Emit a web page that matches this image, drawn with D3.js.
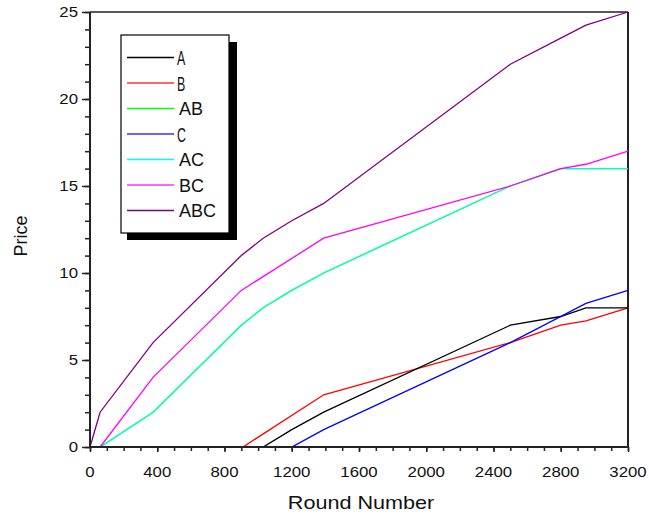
<!DOCTYPE html>
<html>
<head>
<meta charset="utf-8">
<script src="https://cdn.jsdelivr.net/npm/d3@7"></script>
<style>
  body { margin: 0; background: #fff; }
  svg { display: block; font-family: "Liberation Sans", Arial, sans-serif; }
</style>
</head>
<body>
<svg id="chart" width="649" height="514"></svg>
<script>
// ---- data ----
const seriesNames = ["A", "B", "AB", "C", "AC", "BC", "ABC"];
const seriesColors = ["#000000", "#ff0000", "#00ff00", "#0000ff", "#00ffff", "#ff00ff", "#800080"];

const roundsA = [0, 1030, 1200, 1390, 2500, 2800, 2950, 3200];
const priceA  = [0, 0, 1, 2, 7, 7.5, 8, 8];

const roundsB = [0, 910, 1390, 2500, 2800, 2950, 3200];
const priceB  = [0, 0, 3, 6, 7, 7.25, 8];

const roundsAB = [0, 60, 375, 900, 1030, 1200, 1390, 2500, 2800, 3200];
const priceAB  = [0, 0, 2, 7, 8, 9, 10, 15, 16, 16];

const roundsC = [0, 1200, 1390, 2500, 2950, 3200];
const priceC  = [0, 0, 1, 6, 8.25, 9];

const roundsAC = [0, 60, 375, 900, 1030, 1200, 1390, 2500, 2800, 3200];
const priceAC  = [0, 0, 2, 7, 8, 9, 10, 15, 16, 16];

const roundsBC = [0, 60, 375, 900, 1390, 2500, 2800, 2950, 3200];
const priceBC  = [0, 0, 4, 9, 12, 15, 16, 16.25, 17];

const roundsABC = [0, 60, 375, 900, 1030, 1200, 1390, 2500, 2800, 2950, 3200];
const priceABC  = [0, 2, 6, 11, 12, 13, 14, 22, 23.5, 24.25, 25];

const xMajorTicks = [0, 400, 800, 1200, 1600, 2000, 2400, 2800, 3200];
const yMajorTicks = [0, 5, 10, 15, 20, 25];

const xTitle = "Round Number";
const yTitle = "Price";

// ---- build ----
const seriesX = [roundsA, roundsB, roundsAB, roundsC, roundsAC, roundsBC, roundsABC];
const seriesY = [priceA, priceB, priceAB, priceC, priceAC, priceBC, priceABC];

const svg = d3.select("#chart");
const pLeft = 90, pRight = 628, pTop = 12, pBottom = 447;

const x = d3.scaleLinear().domain([0, 3200]).range([pLeft, pRight]);
const y = d3.scaleLinear().domain([0, 25]).range([pBottom, pTop]);

// frame (top and right)
svg.append("line").attr("x1", pLeft).attr("x2", pRight).attr("y1", pTop).attr("y2", pTop)
  .attr("stroke", "#222").attr("stroke-width", 1.5);
svg.append("line").attr("x1", pRight).attr("x2", pRight).attr("y1", pTop).attr("y2", pBottom)
  .attr("stroke", "#222").attr("stroke-width", 2);

// lines
const line = d3.line().x(d => x(d[0])).y(d => y(d[1]));
const drawOrder = [2, 4, 5, 6, 1, 0, 3];
drawOrder.forEach(i => {
  const pts = seriesX[i].map((v, k) => [v, seriesY[i][k]]);
  svg.append("path")
    .attr("d", line(pts))
    .attr("fill", "none")
    .attr("stroke", seriesColors[i])
    .attr("stroke-opacity", i === 4 ? 0.8 : 1)
    .attr("stroke-width", 1.3);
});

// axes
const xMinor = d3.axisBottom(x).tickValues(d3.range(0, 3201, 100)).tickSize(4).tickFormat("");
const xMajor = d3.axisBottom(x).tickValues(xMajorTicks).tickSize(5).tickFormat("");
const yMinor = d3.axisLeft(y).tickValues(d3.range(0, 26, 1)).tickSize(5).tickFormat("");
const yMajor = d3.axisLeft(y).tickValues(yMajorTicks).tickSize(8).tickFormat("");

[xMinor, xMajor].forEach(ax => {
  const g = svg.append("g").attr("transform", `translate(0,${pBottom})`).call(ax);
  g.select(".domain").remove();
  g.selectAll("line").attr("stroke", "#222").attr("stroke-width", 1.5);
});
[yMinor, yMajor].forEach(ax => {
  const g = svg.append("g").attr("transform", `translate(${pLeft},0)`).call(ax);
  g.select(".domain").remove();
  g.selectAll("line").attr("stroke", "#222").attr("stroke-width", 1.5);
});
svg.append("line").attr("x1", pLeft).attr("x2", pLeft).attr("y1", pTop).attr("y2", pBottom + 1)
  .attr("stroke", "#222").attr("stroke-width", 2);
svg.append("line").attr("x1", pLeft - 1).attr("x2", pRight + 1).attr("y1", pBottom).attr("y2", pBottom)
  .attr("stroke", "#222").attr("stroke-width", 2);

// tick labels
svg.append("g").selectAll("text").data(xMajorTicks).join("text")
  .attr("transform", d => `translate(${x(d)},477) scale(1.2,1)`)
  .attr("text-anchor", "middle").attr("font-size", 14).attr("fill", "#111")
  .text(d => d);
svg.append("g").selectAll("text").data(yMajorTicks).join("text")
  .attr("transform", d => `translate(78,${y(d) + 5}) scale(1.2,1)`)
  .attr("text-anchor", "end").attr("font-size", 14).attr("fill", "#111")
  .text(d => d);

// titles
svg.append("text").attr("transform", "translate(361,509) scale(1.2,1)").attr("text-anchor", "middle")
  .attr("font-size", 18).attr("fill", "#111").text(xTitle);
svg.append("text").attr("transform", "translate(27,236) rotate(-90)")
  .attr("text-anchor", "middle").attr("font-size", 18).attr("fill", "#111").text(yTitle);

// legend
const lg = svg.append("g");
lg.append("rect").attr("x", 127).attr("y", 42).attr("width", 110).attr("height", 198).attr("fill", "#000");
lg.append("rect").attr("x", 121).attr("y", 35).attr("width", 108).attr("height", 198)
  .attr("fill", "#fff").attr("stroke", "#000").attr("stroke-width", 1.2);
seriesNames.forEach((name, i) => {
  const cy = 57.5 + i * 25.5;
  lg.append("line").attr("x1", 127).attr("x2", 174).attr("y1", cy).attr("y2", cy)
    .attr("stroke", seriesColors[i]).attr("stroke-width", (i === 1 || i === 3 || i === 5) ? 1.8 : 1.3)
    .attr("stroke-opacity", (i === 1 || i === 3 || i === 5) ? 0.6 : 1);
  if (name.length === 1) {
    lg.append("text").attr("transform", `translate(177,${cy + 7.5}) scale(0.62,1)`)
      .attr("font-size", 20).attr("fill", "#111").text(name);
  } else {
    lg.append("text").attr("x", 179).attr("y", cy + 6.5)
      .attr("font-size", 18).attr("fill", "#111").text(name);
  }
});
</script>
</body>
</html>
